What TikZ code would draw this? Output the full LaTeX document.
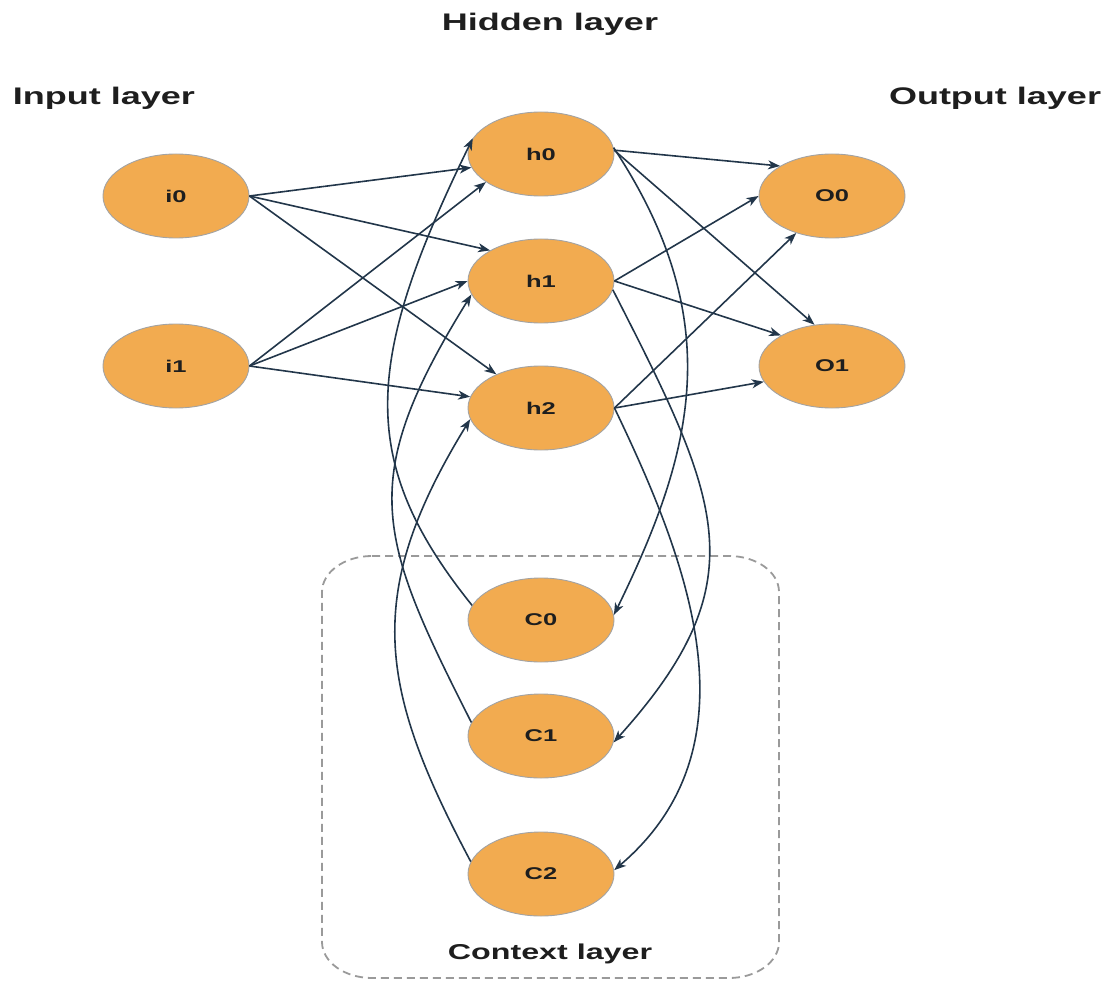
\documentclass[tikz,border=0pt]{standalone}
\usepackage{fontspec}
\setmainfont[FakeStretch=1.5]{Liberation Sans}
\usetikzlibrary{arrows.meta,shapes.geometric}
\definecolor{nodefill}{HTML}{F2AB50}
\definecolor{nodeline}{HTML}{A3A3A3}
\definecolor{edgecol}{HTML}{22364A}
\definecolor{boxline}{HTML}{9A9A9A}
\definecolor{txt}{HTML}{1E1E1E}
\begin{document}
\begin{tikzpicture}[x=1pt,y=-1pt,
  neuron/.style={ellipse, draw=nodeline, line width=0.9pt, fill=nodefill,
    minimum width=146pt, minimum height=84pt, inner sep=0pt,
    font=\fontsize{17}{20}\selectfont\bfseries, text=txt},
  layerlbl/.style={font=\fontsize{24}{28}\selectfont\bfseries, text=txt,
    inner sep=0pt, anchor=base},
  arr/.style={draw=edgecol, line width=1.6pt,
    -{Stealth[length=12pt,width=9pt,inset=3.5pt]}},
  ctxbox/.style={draw=boxline, line width=1.8pt, dash pattern=on 8pt off 5pt}]

\useasboundingbox (0,0) rectangle (1107,981);

% context layer frame (corners are elliptical arcs)
\draw[ctxbox] (372,556) -- (729,556)
  arc[start angle=270, end angle=360, x radius=50, y radius=36]
  -- (779,942)
  arc[start angle=0, end angle=90, x radius=50, y radius=36]
  -- (372,978)
  arc[start angle=90, end angle=180, x radius=50, y radius=36]
  -- (322,592)
  arc[start angle=180, end angle=270, x radius=50, y radius=36] -- cycle;

% layer titles
\node[layerlbl] (thid) at (550,31) {Hidden layer};
\node[layerlbl] (tin)  at (104,105) {Input layer};
\node[layerlbl] (tout) at (995,105) {Output layer};
\node[layerlbl, font=\fontsize{21.5}{26}\selectfont\bfseries] (tctx) at (550,959) {Context layer};

% neurons
\node[neuron] (i0) at (176,196) {i0};
\node[neuron] (i1) at (176,366) {i1};
\node[neuron] (h0) at (541,154) {h0};
\node[neuron] (h1) at (541,281) {h1};
\node[neuron] (h2) at (541,408) {h2};
\node[neuron] (O0) at (832,196) {O0};
\node[neuron] (O1) at (832,366) {O1};
\node[neuron] (C0) at (541,620) {C0};
\node[neuron] (C1) at (541,736) {C1};
\node[neuron] (C2) at (541,874) {C2};

% input -> hidden
\draw[arr] (i0.east) -- (h0.191);
\draw[arr] (i0.east) -- (h1.149);
\draw[arr] (i0.east) -- (h2.143);
\draw[arr] (i1.east) -- (h0.207);
\draw[arr] (i1.east) -- (h1.west);
\draw[arr] (i1.east) -- (h2.171);

% hidden -> output
\draw[arr] (h0.3) -- (O0.150);
\draw[arr] (h0.3) -- (O1.113);
\draw[arr] (h1.east) -- (O0.west);
\draw[arr] (h1.east) -- (O1.149);
\draw[arr] (h2.east) -- (O0.226);
\draw[arr] (h2.east) -- (O1.193);

% context -> hidden (left loops)
\draw[arr] (C0.168) .. controls (355,460) and (365,359) .. (h0.167);
\draw[arr] (C1.169) .. controls (377,536) and (356,481) .. (h1.191);
\draw[arr] (C2.170) .. controls (378,687) and (363,594) .. (h2.189);

% hidden -> context (right loops)
\draw[arr] (h0.5) .. controls (728,321) and (694,451) .. (C0.4);
\draw[arr] (h1.353) .. controls (720,500) and (760,580) .. (C1.355);
\draw[arr] (h2.east) .. controls (688,561) and (760,746) .. (C2.3);
\end{tikzpicture}
\end{document}
